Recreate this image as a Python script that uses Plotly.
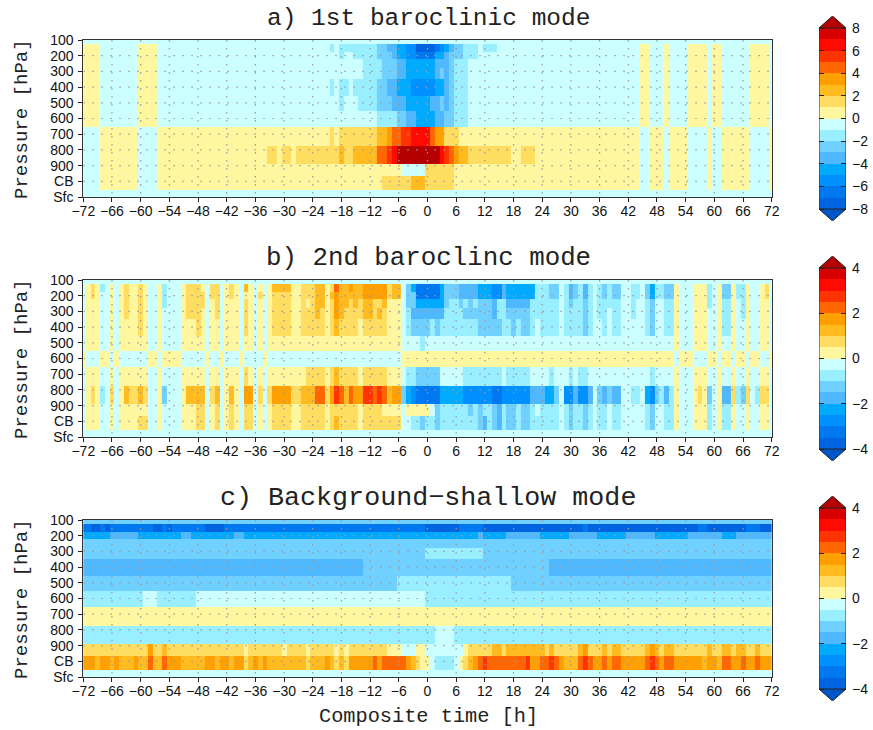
import plotly.graph_objects as go

W, H = 873, 730
HOURS = list(range(-72, 73))
X_TICKS = list(range(-72, 73, 6))
Y_TICK_LABELS = ["100", "200", "300", "400", "500", "600", "700", "800", "900", "CB", "Sfc"]
# row edges of the 13 model levels, in axis-tick units
ROW_EDGES = [0, .255, .745, 1.234, 1.809, 2.511, 3.553, 4.532, 5.532, 6.766, 7.872, 8.66, 9.574, 10]
COLORS = ["#0055c8", "#0064e0", "#0078f0", "#0090ff", "#00aaff", "#50b8ff", "#70d0ff", "#99eeff", "#ccffff",
          "#fff6a0", "#ffdd60", "#ffbb20", "#ffa000", "#ff6600", "#ff3300", "#ff0a00", "#d70000", "#b40000"]

# Each row: (last hour of run, value)
A_UL = [(-69, .5), (-61, -.5), (-57, .5)]
A_UR = [(44, -.5), (46, .5), (49, -.5), (50, .5), (54, -.5), (58, .5), (59, -.5), (61, .5), (67, -.5), (71, .5), (72, -.5)]
A_LL = [(-69, -.5), (-61, .5), (-57, -.5)]
A_LR = [(44, .5), (46, -.5), (49, .5), (50, -.5), (54, .5), (58, -.5), (59, .5), (61, -.5), (67, .5), (71, -.5), (72, .5)]
PANEL_A = [
    [(72, -.5)],
    A_UL + [(-21, -.5), (-20, -1.5), (-19, -.5), (-11, -1.5), (-9, -2.5), (-7, -3.5), (-5, -4.5), (-3, -5.5), (1, -7.5), (2, -6.5), (3, -5.5), (4, -4.5), (5, -3.5), (7, -2.5), (10, -1.5), (11, -.5), (14, -1.5)] + A_UR,
    A_UL + [(-19, -.5), (-18, -1.5), (-16, -.5), (-11, -1.5), (-8, -2.5), (-7, -3.5), (-5, -4.5), (-3, -5.5), (1, -6.5), (3, -4.5), (4, -3.5), (7, -2.5), (10, -1.5)] + A_UR,
    A_UL + [(-14, -.5), (-10, -1.5), (-7, -2.5), (-5, -3.5), (1, -4.5), (4, -3.5), (5, -2.5), (8, -1.5)] + A_UR,
    A_UL + [(-14, -.5), (-10, -1.5), (-7, -2.5), (-5, -3.5), (1, -4.5), (2, -3.5), (3, -2.5), (4, -3.5), (5, -2.5), (8, -1.5)] + A_UR,
    A_UL + [(-21, -.5), (-20, -1.5), (-19, -.5), (-17, -1.5), (-16, -.5), (-11, -1.5), (-9, -2.5), (-7, -3.5), (-4, -4.5), (1, -5.5), (3, -4.5), (4, -3.5), (5, -2.5), (8, -1.5)] + A_UR,
    A_UL + [(-19, -.5), (-18, -1.5), (-15, -.5), (-11, -1.5), (-8, -2.5), (-5, -3.5), (0, -4.5), (2, -3.5), (3, -2.5), (4, -3.5), (5, -2.5), (8, -1.5)] + A_UR,
    A_UL + [(-11, -.5), (-7, -1.5), (-5, -2.5), (-3, -3.5), (1, -4.5), (3, -3.5), (5, -2.5), (8, -1.5)] + A_UR,
    A_LL + [(-21, .5), (-20, 1.5), (-19, .5), (-11, 1.5), (-9, 2.5), (-8, 3.5), (-6, 4.5), (-4, 5.5), (0, 6.5), (1, 4.5), (3, 3.5), (6, 1.5)] + A_LR,
    A_LL + [(-34, .5), (-32, 1.5), (-31, .5), (-29, 1.5), (-28, .5), (-19, 1.5), (-18, 2.5), (-16, 1.5), (-11, 2.5), (-9, 4.5), (-8, 5.5), (-7, 6.5), (2, 8.5), (3, 6.5), (4, 5.5), (5, 4.5), (6, 3.5), (8, 2.5), (17, 1.5), (19, .5), (22, 1.5)] + A_LR,
    A_LL + [(-6, .5), (-1, -.5), (5, 1.5)] + A_LR,
    A_LL + [(-10, .5), (-4, 1.5), (-1, 2.5), (5, 1.5)] + A_LR,
    [(72, -.5)],
]

PANEL_B = [
    [(72, -.25)],
    [(-72, -.25), (-71, .25), (-70, .75), (-69, .25), (-68, -.75), (-67, -.25), (-66, .25), (-65, -.25), (-64, .25), (-63, .75), (-61, .25), (-60, .75), (-59, .25), (-57, -.25), (-56, .25), (-55, -.75), (-52, -.25), (-51, .25), (-48, .75), (-47, .25), (-46, -.25), (-44, .75), (-43, -.25), (-42, .25), (-41, .75), (-40, .25), (-39, -.25), (-38, 1.25), (-37, .25), (-36, -.25), (-35, .25), (-34, -.25), (-33, .25), (-29, 1.25), (-27, .25), (-24, .75), (-22, 1.25), (-21, .25), (-20, .75), (-19, 2.25), (-17, 1.25), (-16, 1.75), (-14, 1.25), (-9, 1.75), (-8, .75), (-6, 1.25), (-5, -.25), (-4, -1.25), (-3, -2.25), (2, -3.25), (3, -2.25), (6, -1.25), (10, -1.75), (13, -2.25), (15, -2.75), (16, -1.75), (22, -2.25), (25, -.75), (27, -1.25), (28, -.25), (29, -.75), (30, -1.75), (31, -1.25), (32, -.75), (33, -1.75), (34, -.75), (35, -.25), (36, -.75), (37, -1.25), (38, -.75), (40, -1.25), (42, -.25), (44, -.75), (45, -.25), (46, -1.25), (47, -2.25), (49, -.75), (51, -1.25), (52, .25), (55, -.25), (58, .25), (59, -.75), (60, -.25), (61, .25), (63, -1.25), (64, .25), (66, -.75), (67, .25), (69, -.25), (70, .25), (71, .75), (72, -.25)],
    [(-72, -.25), (-71, .25), (-70, .75), (-69, .25), (-67, -.25), (-66, .25), (-65, -.25), (-64, .25), (-63, .75), (-61, .25), (-60, .75), (-59, .25), (-57, -.25), (-56, .25), (-55, -.75), (-52, -.25), (-51, .25), (-47, .75), (-46, -.25), (-44, .75), (-43, -.25), (-42, .25), (-41, .75), (-40, .25), (-39, -.25), (-38, .25), (-37, .25), (-36, -.25), (-35, .75), (-34, -.25), (-33, .25), (-29, .75), (-27, .25), (-24, .75), (-22, 1.25), (-21, .25), (-20, 1.25), (-19, 1.75), (-14, 1.25), (-9, 1.75), (-8, .75), (-6, 1.25), (-5, -.25), (-3, -1.25), (2, -3.25), (3, -2.25), (6, -1.25), (10, -1.75), (13, -2.25), (15, -2.75), (16, -1.75), (22, -2.25), (25, -.75), (27, -1.25), (28, -.25), (29, -.75), (30, -1.75), (31, -1.25), (32, -.75), (33, -1.75), (34, -.75), (35, -.25), (36, -.75), (37, -1.25), (38, -.75), (40, -1.25), (42, -.25), (44, -.75), (45, -.25), (46, -1.25), (47, -2.25), (49, -.75), (51, -1.25), (52, .25), (55, -.25), (58, .25), (59, -.75), (60, -.25), (61, .25), (63, -1.25), (64, .25), (66, -.75), (67, .25), (69, -.25), (70, .25), (71, .75), (72, -.25)],
    [(-72, -.25), (-69, .25), (-67, -.25), (-66, .25), (-65, -.25), (-64, .25), (-63, .75), (-61, .25), (-60, .75), (-59, .25), (-57, -.25), (-56, .25), (-55, -.75), (-52, -.25), (-51, .25), (-47, .75), (-46, -.25), (-45, .25), (-44, .75), (-43, -.25), (-40, .25), (-39, -.25), (-38, .75), (-37, .25), (-36, -.25), (-35, .25), (-34, -.25), (-33, .25), (-29, .75), (-27, .25), (-26, .75), (-25, .25), (-24, .75), (-22, 1.25), (-21, .25), (-20, .75), (-19, 1.75), (-17, 1.25), (-16, .75), (-15, 1.25), (-14, .75), (-12, 1.25), (-10, .75), (-9, 1.25), (-6, .25), (-5, -.25), (-3, -1.25), (3, -2.25), (4, -1.25), (6, -.75), (7, -1.25), (8, -.75), (9, -1.25), (10, -.75), (13, -1.25), (14, -1.75), (16, -.75), (21, -1.75), (27, -.75), (28, -.25), (29, -.75), (30, -1.25), (32, -.75), (33, -1.25), (34, -.75), (35, -.25), (40, -.75), (42, -.25), (43, -.75), (45, -.25), (46, -.75), (47, -1.25), (49, -.25), (51, -.75), (52, .25), (55, -.25), (58, .25), (59, -.75), (60, -.25), (61, .25), (63, -.75), (64, .25), (65, -.25), (66, -.75), (67, .25), (69, -.25), (71, .25), (72, -.25)],
    [(-72, -.25), (-69, .25), (-67, -.25), (-66, .25), (-65, -.25), (-64, .25), (-63, .75), (-61, .25), (-60, .75), (-59, .25), (-57, -.25), (-56, .25), (-52, -.25), (-51, .25), (-48, .75), (-47, .25), (-46, -.25), (-45, .25), (-44, .75), (-43, -.25), (-40, .25), (-39, -.25), (-38, .75), (-37, .25), (-36, -.25), (-35, .25), (-34, -.25), (-33, .25), (-29, .75), (-27, .25), (-24, .75), (-23, 1.25), (-22, .75), (-21, .25), (-20, .75), (-19, 1.75), (-18, 1.25), (-14, .75), (-12, 1.25), (-11, .75), (-10, 1.25), (-9, .75), (-6, .25), (-5, -.25), (-4, -.75), (3, -1.75), (7, -.75), (13, -1.25), (14, -1.75), (16, -.75), (21, -1.25), (27, -.75), (28, -.25), (32, -.75), (33, -1.25), (34, -.75), (35, -.25), (37, -.75), (38, -.25), (40, -.75), (42, -.25), (43, -.75), (45, -.25), (46, -.75), (47, -1.25), (49, -.25), (51, -.75), (52, .25), (55, -.25), (58, .25), (60, -.25), (61, .25), (63, -.75), (64, .25), (65, -.25), (66, -.75), (67, .25), (69, -.25), (71, .25), (72, -.25)],
    [(-72, -.25), (-69, .25), (-67, -.25), (-66, .25), (-65, -.25), (-61, .25), (-60, .75), (-59, .25), (-57, -.25), (-56, .25), (-52, -.25), (-49, .25), (-48, .75), (-47, .25), (-46, -.25), (-44, .25), (-43, -.25), (-40, .25), (-39, -.25), (-38, .75), (-37, .25), (-36, -.25), (-35, .25), (-34, -.25), (-33, .25), (-29, .75), (-27, .25), (-22, .75), (-21, .25), (-20, .75), (-19, 1.25), (-15, .75), (-14, .25), (-9, .75), (-6, .25), (-5, -.25), (-4, -.75), (-3, -1.25), (0, -1.25), (1, -.75), (2, -1.25), (10, -.75), (15, -1.25), (17, -.75), (18, -1.25), (19, -.75), (21, -1.25), (22, -.75), (23, -.25), (27, -.75), (28, -.25), (32, -.75), (33, -1.25), (34, -.75), (36, -.25), (37, -.75), (38, -.25), (40, -.75), (45, -.25), (46, -.75), (47, -1.25), (49, -.25), (51, -.75), (52, .25), (55, -.25), (58, .25), (60, -.25), (61, .25), (63, -.75), (64, .25), (66, -.25), (67, .25), (69, -.25), (71, .25), (72, -.25)],
    [(-72, -.25), (-69, .25), (-67, -.25), (-66, .25), (-65, -.25), (-59, .25), (-57, -.25), (-56, .25), (-52, -.25), (-47, .25), (-46, -.25), (-44, .25), (-43, -.25), (-40, .25), (-39, -.25), (-37, .25), (-36, -.25), (-35, .25), (-34, -.25), (-6, .25), (-2, -.25), (-1, -.75), (51, -.25), (52, .25), (55, -.25), (58, .25), (60, -.25), (61, .25), (63, -.25), (64, .25), (66, -.25), (67, .25), (69, -.25), (71, .25), (72, -.25)],
    [(-72, .25), (-69, -.25), (-67, .25), (-66, -.25), (-65, .25), (-59, -.25), (-57, .25), (-56, -.25), (-52, .25), (-47, -.25), (-46, .25), (-44, -.25), (-43, .25), (-40, -.25), (-39, .25), (-35, -.25), (-34, .25), (-6, -.25), (51, .25), (52, -.25), (55, .25), (58, -.25), (60, .25), (61, -.25), (63, .25), (64, -.25), (66, .25), (67, -.25), (69, .25), (71, -.25), (72, .25)],
    [(-72, -.25), (-69, .25), (-67, -.25), (-66, .25), (-65, -.25), (-59, .25), (-57, -.25), (-56, .25), (-52, -.25), (-47, .25), (-46, -.25), (-44, .25), (-43, -.25), (-40, .25), (-39, -.25), (-38, .75), (-37, .25), (-36, -.25), (-35, .25), (-34, -.25), (-26, .25), (-22, .75), (-21, .25), (-20, .75), (-19, 1.25), (-15, .75), (-14, .25), (-9, .75), (-6, .25), (-5, -.25), (-3, -.75), (2, -1.25), (7, -.25), (15, -.75), (16, -.25), (21, -.75), (25, -.25), (26, -.75), (29, -.25), (30, -.75), (31, -.25), (33, -.75), (46, -.25), (47, -.75), (51, -.25), (52, .25), (55, -.25), (58, .25), (60, -.25), (61, .25), (63, -.25), (64, .25), (66, -.25), (67, .25), (69, -.25), (71, .25), (72, -.25)],
    [(-72, -.25), (-71, .25), (-70, .75), (-69, .25), (-68, -.75), (-67, -.25), (-66, .75), (-65, -.25), (-64, .25), (-63, 1.25), (-61, .75), (-60, 1.25), (-59, .75), (-57, -.25), (-56, .25), (-55, -1.25), (-52, -.25), (-51, .25), (-47, 1.25), (-46, -.25), (-45, .75), (-44, 1.25), (-43, -.25), (-42, .25), (-41, 1.25), (-40, .25), (-39, -.25), (-37, 1.75), (-36, -.25), (-35, .75), (-34, -.25), (-33, .75), (-29, 1.75), (-27, .75), (-24, 1.25), (-22, 2.25), (-21, .75), (-20, 1.75), (-19, 2.75), (-18, 2.25), (-17, 1.25), (-16, 2.25), (-14, 1.75), (-12, 2.75), (-11, 2.25), (-10, 2.75), (-9, 2.25), (-8, 1.25), (-6, 1.75), (-5, -1.25), (-4, -2.25), (-3, -2.75), (2, -3.25), (7, -2.25), (13, -2.75), (15, -3.25), (21, -2.75), (24, -1.75), (26, -2.25), (27, -1.25), (28, -.25), (30, -2.75), (31, -1.75), (33, -2.75), (34, -1.75), (35, -.25), (36, -1.25), (37, -1.75), (38, -1.25), (40, -1.75), (42, -.25), (44, -.75), (45, -.25), (46, -2.25), (47, -2.75), (48, -1.25), (49, -.75), (50, -1.75), (51, -.75), (52, .25), (55, -.25), (56, .25), (57, .75), (58, .25), (59, -1.25), (60, -.25), (61, .25), (63, -1.75), (64, .75), (65, -.75), (66, -1.25), (67, .75), (68, -.25), (69, -.75), (71, .75), (72, -.25)],
    [(-72, -.25), (-69, .25), (-67, -.25), (-66, .25), (-65, -.25), (-59, .25), (-57, -.25), (-56, .25), (-52, -.25), (-49, .25), (-47, .75), (-46, -.25), (-45, .25), (-44, .75), (-43, -.25), (-42, .25), (-41, .75), (-40, .25), (-39, -.25), (-37, .75), (-36, -.25), (-35, .25), (-34, -.25), (-33, .25), (-29, .75), (-27, .25), (-22, .75), (-21, .25), (-15, .75), (-14, .25), (-10, .75), (-6, .25), (-5, -.25), (0, .25), (1, -.25), (2, -1.25), (8, -.75), (9, -1.25), (10, -.75), (11, -1.25), (13, -.75), (14, -1.25), (15, -1.75), (16, -.75), (18, -1.25), (19, -.75), (21, -1.25), (22, -.75), (23, -.25), (27, -.75), (28, -.25), (29, -.75), (30, -1.25), (32, -.75), (33, -1.25), (34, -.75), (35, -.25), (37, -.75), (38, -.25), (40, -.75), (45, -.25), (46, -.75), (47, -1.25), (49, -.25), (51, -.75), (52, .25), (55, -.25), (58, .25), (59, -.75), (60, -.25), (61, .25), (63, -.75), (64, .25), (66, -.25), (67, .25), (69, -.25), (71, .25), (72, -.25)],
    [(-72, -.25), (-69, .25), (-67, -.25), (-66, .25), (-65, -.25), (-61, .25), (-59, .75), (-57, -.25), (-56, .25), (-52, -.25), (-49, .25), (-47, .75), (-46, -.25), (-45, .25), (-44, .75), (-43, -.25), (-42, .25), (-41, .75), (-40, .25), (-39, -.25), (-37, .75), (-36, -.25), (-35, .25), (-34, -.25), (-33, .25), (-29, .75), (-27, .25), (-22, .75), (-21, .25), (-20, .75), (-19, 1.25), (-15, .75), (-14, .25), (-9, .75), (-6, .75), (-5, -.25), (-4, -.25), (-2, -.75), (-1, -1.25), (1, -.75), (2, -1.25), (10, -.75), (11, -1.25), (12, -1.75), (13, -.75), (14, -1.25), (15, -1.75), (16, -.75), (18, -1.25), (19, -.75), (21, -1.25), (27, -.75), (28, -.25), (29, -.75), (30, -1.25), (32, -.75), (33, -1.25), (34, -.75), (35, -.25), (37, -.75), (38, -.25), (40, -.75), (45, -.25), (46, -.75), (47, -1.25), (49, -.25), (51, -.75), (52, .25), (55, -.25), (58, .25), (59, -.75), (60, -.25), (61, .25), (63, -.75), (64, .25), (66, -.25), (67, .25), (69, -.25), (71, .25), (72, -.25)],
    [(72, -.25)],
]

PANEL_C = [
    [(72, -1.25)],
    [(-71, -3.25), (-69, -3.75), (-68, -3.25), (-67, -3.75), (-58, -3.25), (-56, -3.75), (-55, -3.25), (-54, -3.75), (-47, -3.25), (-43, -3.75), (-1, -3.25), (6, -3.75), (11, -3.25), (32, -3.75), (33, -3.25), (56, -3.75), (58, -3.25), (66, -3.75), (69, -3.25), (72, -3.75)],
    [(-67, -2.25), (-61, -1.75), (-52, -2.25), (-50, -1.75), (-41, -2.25), (-39, -1.75), (10, -2.25), (11, -1.75), (16, -2.25), (23, -1.75), (29, -2.25), (35, -1.75), (41, -2.25), (47, -1.75), (54, -2.25), (61, -1.75), (64, -2.25), (72, -1.75)],
    [(72, -1.25)],
    [(-1, -1.25), (11, -.75), (72, -1.25)],
    [(-14, -1.75), (25, -1.25), (72, -1.75)],
    [(-7, -1.25), (17, -.75), (72, -1.25)],
    [(-60, -.75), (-57, -.25), (-49, -.75), (-1, -.25), (72, -.75)],
    [(72, .25)],
    [(1, -.75), (5, -.25), (72, -.75)],
    [(-59, .75), (-58, 1.75), (-56, .75), (-55, 1.25), (-39, .75), (-38, .25), (-31, .75), (-30, .25), (-26, .75), (-25, .25), (-20, .75), (-19, .25), (-18, .75), (-17, .25), (-9, .75), (-6, .25), (-3, -.25), (-1, .25), (7, -.25), (8, .25), (13, .75), (15, 1.25), (16, .75), (24, 1.25), (25, .75), (26, 1.25), (31, .75), (32, 1.25), (33, 1.75), (36, .75), (37, 1.25), (38, .75), (40, 1.25), (45, .75), (46, 1.25), (47, 1.75), (48, 1.25), (49, .75), (51, 1.25), (58, .75), (59, 1.25), (61, .75), (63, 1.25), (64, .75), (66, 1.25), (68, .75), (69, 1.25), (72, .75)],
    [(-70, 1.75), (-69, 1.25), (-67, 1.75), (-66, 1.25), (-65, 1.75), (-62, 1.25), (-61, 1.75), (-59, 1.25), (-58, 2.25), (-56, 1.25), (-55, 2.25), (-52, 1.75), (-47, 1.25), (-45, 1.75), (-44, 1.25), (-42, 1.75), (-41, 1.25), (-39, 1.75), (-38, .75), (-37, 1.25), (-36, 1.75), (-35, 1.25), (-34, 1.75), (-26, 1.25), (-25, .75), (-22, 1.25), (-21, 1.75), (-20, 1.25), (-19, .75), (-18, 1.25), (-17, .75), (-12, 1.75), (-11, 2.25), (-10, 1.75), (-5, 2.25), (-4, 1.75), (-3, 1.25), (-2, .75), (0, .25), (1, -.25), (5, -.75), (6, -.25), (7, .25), (8, .75), (9, 1.25), (10, 1.75), (11, 2.25), (12, 2.75), (20, 2.25), (21, 2.75), (23, 1.75), (25, 2.25), (26, 2.75), (27, 2.25), (28, 1.75), (31, 1.25), (32, 2.25), (33, 2.75), (34, 2.25), (36, 1.75), (37, 2.25), (38, 1.75), (40, 2.25), (45, 1.75), (46, 2.25), (47, 2.75), (48, 2.25), (49, 1.75), (51, 2.25), (57, 1.75), (58, 1.25), (60, 1.75), (61, 1.25), (63, 2.25), (65, 1.75), (66, 2.25), (68, 1.75), (69, 2.25), (72, 1.75)],
    [(72, -.25)],
]

PANELS = [
    dict(title="a) 1st baroclinic mode", rows=PANEL_A, top=40, limit=8, title_y=18, title_size=24.5),
    dict(title="b) 2nd baroclinc mode", rows=PANEL_B, top=280, limit=4, title_y=258, title_size=25.8),
    dict(title="c) Background\u2212shallow mode", rows=PANEL_C, top=520, limit=4, title_y=498, title_size=26.7),
]
BAR_TICK_STEP = 2
PLOT_H, PLOT_L, PLOT_R = 157, 83.3, 771.7
BAR_L, BAR_R = 819, 846
TITLE_FONT = "Liberation Mono"
TICK_FONT = dict(family="Liberation Sans", size=14, color="#111")


def expand(row):
    out, i = [], 0
    for last, value in row:
        while i < len(HOURS) and HOURS[i] <= last:
            out.append(value)
            i += 1
    return out


def minus(v):
    return str(v).replace("-", "\u2212")


def discrete_scale(colors):
    n = len(colors)
    scale = []
    for i, c in enumerate(colors):
        scale += [[i / n, c], [(i + 1) / n, c]]
    return scale


fig = go.Figure()
layout = dict(width=W, height=H, autosize=False, margin=dict(l=0, r=0, t=0, b=0),
              paper_bgcolor="white", plot_bgcolor="white", showlegend=False)
annotations = []
SCALE = discrete_scale(COLORS)

for k, p in enumerate(PANELS):
    n = 2 * k + 1
    xm, ym = f"x{n}", f"y{n}"
    xb, yb = f"x{n+1}", f"y{n+1}"
    lim = p["limit"]
    step = lim / 8
    fig.add_trace(go.Heatmap(x=HOURS, y=ROW_EDGES, z=[expand(r) for r in p["rows"]],
                             zmin=-lim * 9 / 8, zmax=lim * 9 / 8, colorscale=SCALE, showscale=False,
                             xaxis=xm, yaxis=ym, hoverinfo="skip"))
    # dotted grid above the cells
    gx, gy = [], []
    for t in X_TICKS[1:-1]:
        gx += [t, t, None]
        gy += [0, 10, None]
    fig.add_trace(go.Scatter(x=gx, y=gy, mode="lines", xaxis=xm, yaxis=ym, hoverinfo="skip",
                             line=dict(color="#9a9a9a", width=1.2, dash="1.5px,6.5px")))
    gx, gy = [], []
    for j in range(1, 10):
        gx += [-72, 72, None]
        gy += [j, j, None]
    fig.add_trace(go.Scatter(x=gx, y=gy, mode="lines", xaxis=xm, yaxis=ym, hoverinfo="skip",
                             line=dict(color="#9a9a9a", width=1.2, dash="1.5px,7.5px")))
    top = p["top"]
    layout[f"xaxis{n}"] = dict(domain=[PLOT_L / W, PLOT_R / W], anchor=f"y{n}", range=[-72, 72], automargin=False,
                               tickmode="array", tickvals=X_TICKS, ticktext=[minus(v) for v in X_TICKS],
                               tickangle=0, ticks="outside", ticklen=4, tickcolor="#222", tickfont=TICK_FONT,
                               ticklabelstandoff=-3, showline=True, mirror=True, linecolor="#333", linewidth=1,
                               showgrid=False, zeroline=False)
    layout[f"yaxis{n}"] = dict(domain=[1 - (top + PLOT_H) / H, 1 - top / H], anchor=f"x{n}", range=[10, 0], automargin=False,
                               tickmode="array", tickvals=list(range(11)), ticktext=Y_TICK_LABELS,
                               ticks="outside", ticklen=4, tickcolor="#222", tickfont=TICK_FONT, ticklabelstandoff=2,
                               showline=True, mirror=True, linecolor="#333", linewidth=1, showgrid=False,
                               zeroline=False)
    # colour bar as its own small heat map
    edges = [-lim + i * step for i in range(17)]
    mids = [-lim + (i + .5) * step for i in range(16)]
    ext = step * 12 / (181 / 16)
    fig.add_trace(go.Heatmap(x=[0, 1], y=edges, z=[[m] for m in mids], zmin=-lim * 9 / 8, zmax=lim * 9 / 8,
                             colorscale=SCALE, showscale=False, xaxis=xb, yaxis=yb, hoverinfo="skip"))
    fig.add_trace(go.Scatter(x=[0, .5, 1, 0], y=[lim, lim + ext, lim, lim], mode="lines", fill="toself",
                             fillcolor=COLORS[-1], line=dict(color="#222", width=1), xaxis=xb, yaxis=yb, hoverinfo="skip"))
    fig.add_trace(go.Scatter(x=[0, .5, 1, 0], y=[-lim, -lim - ext, -lim, -lim], mode="lines", fill="toself",
                             fillcolor=COLORS[0], line=dict(color="#222", width=1), xaxis=xb, yaxis=yb, hoverinfo="skip"))
    fig.add_trace(go.Scatter(x=[0, 0, None, 1, 1], y=[-lim, lim, None, -lim, lim], mode="lines",
                             line=dict(color="#333", width=1), xaxis=xb, yaxis=yb, hoverinfo="skip"))
    bvals = list(range(-lim, lim + 1, BAR_TICK_STEP))
    layout[f"xaxis{n+1}"] = dict(domain=[BAR_L / W, BAR_R / W], anchor=f"y{n+1}", range=[0, 1], visible=False, automargin=False)
    layout[f"yaxis{n+1}"] = dict(domain=[1 - (top + 181) / H, 1 - (top - 24) / H], anchor=f"x{n+1}", side="right",
                                 range=[-lim - ext, lim + ext], tickmode="array", tickvals=bvals, automargin=False,
                                 ticktext=[minus(v) for v in bvals], ticks="inside", ticklen=5, mirror="ticks",
                                 ticklabelstandoff=5, tickcolor="#222", tickfont=TICK_FONT, showline=False,
                                 showgrid=False, zeroline=False)
    annotations.append(dict(text=p["title"], x=428 / W, y=1 - p["title_y"] / H, xref="paper", yref="paper",
                            showarrow=False, xanchor="center", yanchor="middle",
                            font=dict(family=TITLE_FONT, size=p["title_size"], color="#222")))
    annotations.append(dict(text="Pressure [hPa]", x=22 / W, y=1 - (top + 79) / H, xref="paper", yref="paper",
                            showarrow=False, textangle=-90, xanchor="center", yanchor="middle",
                            font=dict(family=TITLE_FONT, size=19, color="#222")))
annotations.append(dict(text="Composite time [h]", x=428 / W, y=1 - 716 / H, xref="paper", yref="paper",
                        showarrow=False, xanchor="center", yanchor="middle",
                        font=dict(family=TITLE_FONT, size=20.3, color="#222")))
layout["annotations"] = annotations
fig.update_layout(**layout)
fig.write_html("out.html", config={"displayModeBar": False}, post_script="document.body.style.margin='0';")
